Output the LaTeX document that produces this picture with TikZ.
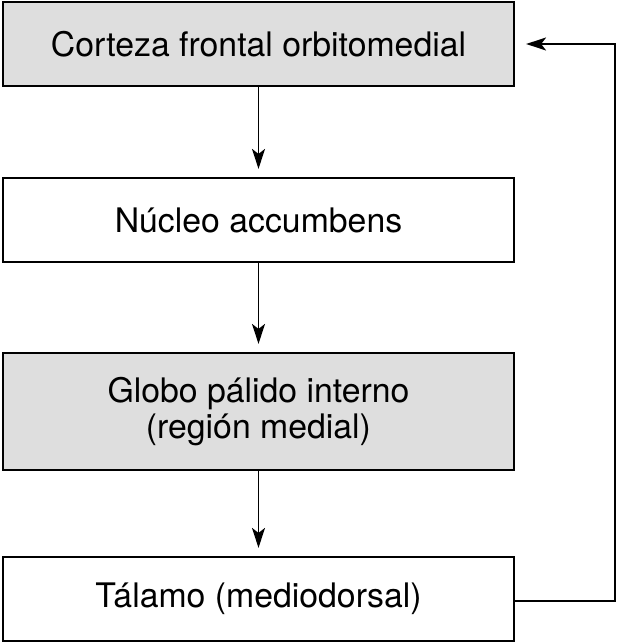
\documentclass[tikz,border=0pt]{standalone}
\usepackage{fontspec}
\setmainfont{TeX Gyre Heros}
\usepackage{tikz}
\usetikzlibrary{arrows.meta, positioning}
\definecolor{boxgray}{RGB}{222,222,222}

\begin{document}
\begin{tikzpicture}[x=1pt, y=1pt,
    box/.style={rectangle, draw, line width=2.2pt,
                fill=white, minimum width=511pt,
                minimum height=84pt, align=center,
                font=\fontsize{33.8}{36}\selectfont},
    grbox/.style={box, fill=boxgray},
    arr/.style={-{Stealth[length=20pt, width=13pt, inset=5pt]},
                line width=1.6pt, shorten >=8pt}
]
    \useasboundingbox (0,0) rectangle (618,-644);

    \node[grbox] (cof) at (258.5, -44) {Corteza frontal orbitomedial};
    \node[box] (acc) at (258.5,-220) {Núcleo accumbens};
    \node[grbox, minimum height=117pt] (gpi) at (258.5,-411.5)
        {Globo pálido interno\\(región medial)};
    \node[box] (tal) at (258.5,-599) {Tálamo (mediodorsal)};
    \coordinate (ret) at (615,-601);

    \draw[arr] (cof) -- (acc);
    \draw[arr] (acc) -- (gpi);
    \draw[arr] (gpi) -- (tal);
    \draw[arr, shorten >=11pt] (tal.east |- ret) -- (ret) |- (cof.east);
\end{tikzpicture}
\end{document}
